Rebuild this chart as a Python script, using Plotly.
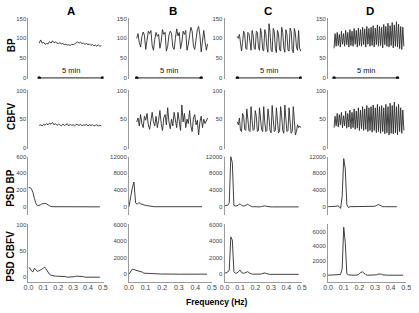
import plotly.graph_objects as go

W, H = 419, 313

COLUMNS = ["A", "B", "C", "D"]
ROW_LABELS = ["BP", "CBFV", "PSD BP", "PSD CBFV"]

# ---- time series (BP, CBFV), sampled every DT seconds ----
DT = {"A": 7, "B": 6, "C": 5, "D": 5}

A_BP = [88, 96, 88, 90, 85, 87, 86, 92, 88, 94, 89, 91, 88, 87, 89, 86, 87, 84, 85, 83,
        84, 82, 85, 84, 86, 89, 91, 88, 90, 87, 88, 85, 87, 84, 86, 82, 85, 81, 83, 80,
        84, 80, 82]
A_CBFV = [39, 40, 38, 41, 39, 42, 40, 43, 41, 44, 40, 42, 39, 41, 40, 38, 41, 39, 40, 42,
          38, 41, 39, 40, 38, 41, 40, 39, 41, 38, 40, 39, 41, 38, 40, 39, 40, 38, 39, 40,
          38, 39, 38]
B_BP = [100, 112, 90, 78, 104, 116, 108, 72, 95, 118,
        112, 120, 82, 70, 98, 115, 105, 110, 75, 92,
        122, 110, 115, 68, 80, 108, 118, 112, 78, 72,
        100, 124, 106, 115, 74, 90, 118, 110, 120, 70,
        85, 112, 128, 118, 80, 72, 96, 122, 130, 108,
        66, 88, 120, 92, 70, 86]
B_CBFV = [45, 52, 38, 58, 42, 35, 55, 48, 60, 40,
          32, 50, 62, 45, 38, 55, 35, 48, 65, 42,
          30, 52, 58, 40, 70, 45, 33, 50, 38, 62,
          48, 35, 62, 40, 30, 75, 45, 60, 35, 50,
          42, 65, 38, 28, 52, 58, 40, 48, 22, 45,
          55, 35, 50, 42, 48, 52]
C_BP = [105, 100, 110, 92, 68, 90, 118, 110, 75, 72,
        115, 112, 80, 70, 120, 108, 74, 72, 118, 115,
        78, 70, 125, 110, 72, 68, 122, 112, 76, 65,
        137, 115, 70, 66, 125, 118, 75, 64, 120, 112,
        72, 68, 128, 115, 76, 65, 122, 110, 70, 68,
        126, 118, 72, 64, 125, 112, 78, 70, 120, 75,
        68]
C_CBFV = [45, 40, 52, 30, 28, 60, 55, 32, 30, 68,
          50, 30, 28, 72, 48, 30, 32, 65, 55, 28,
          30, 70, 50, 32, 28, 72, 45, 28, 30, 68,
          52, 30, 26, 74, 50, 28, 30, 70, 48, 26,
          28, 72, 55, 30, 25, 75, 50, 28, 30, 70,
          45, 25, 28, 72, 48, 22, 28, 40, 35, 38,
          35]
D_BP = [75, 112, 80, 115, 82, 110, 78, 118, 85, 112,
        80, 120, 84, 115, 78, 122, 82, 118, 80, 125,
        85, 120, 78, 126, 82, 122, 80, 128, 84, 124,
        78, 130, 85, 125, 80, 128, 82, 132, 78, 126,
        84, 134, 80, 130, 82, 128, 76, 135, 84, 130,
        80, 138, 78, 132, 82, 140, 76, 134, 80, 142,
        78, 136, 74, 130, 72, 128, 80]
D_CBFV = [35, 55, 38, 60, 36, 58, 40, 62, 35, 56,
          38, 64, 34, 60, 36, 66, 33, 62, 35, 68,
          32, 64, 34, 70, 30, 66, 33, 72, 30, 68,
          32, 74, 28, 70, 30, 72, 27, 75, 30, 70,
          26, 76, 28, 72, 25, 74, 28, 70, 24, 76,
          26, 72, 22, 78, 25, 74, 24, 80, 26, 72,
          22, 76, 28, 70, 25, 66, 30]

# ---- power spectral densities, frequency step 0.01 Hz starting at 0 ----
FREQ_STEP = 0.01
A_PSD_BP = [230, 228, 215, 170, 100, 40, 12, 15, 22, 32, 38, 40, 35, 22, 8, 2, 0, 0, 0, 0,
            0, 0, 0, 0, 0, 0, -1, -1, -1, -1, -1, -1, -1, -1, -1, -2, -2, -2, -2, -2,
            -2, -2, -2, -2, -2, -2, -2, -2, -2]
A_PSD_CBFV = [18, 17, 12, 10, 17, 14, 11, 12, 13, 15, 17, 19, 15, 10, 6, 4, 3, 3, 2, 2,
              2, 2, 2, 2, 2, 1, 0, 0, 0, 1, 1, 1, 2, 2, 2, 1, 1, 1, 0, 0,
              0, 0, 0, 0, 0, 0, 0, 0, 0]
B_PSD_BP = [0, 2800, 4500, 5900, 900, 600, 1000, 700, 500, 400, 300, 250, 150, 50, 0, 0, 0, 0, 0, 0,
            0, 0, 0, 0, 0, 0, 0, 0, 0, 0, 0, 0, 0, 0, 0, 0, 0, 0, 0, 0,
            0, 0, 0, 0, 0]
B_PSD_CBFV = [0, 350, 600, 550, 500, 450, 400, 350, 250, 120, 100, 100, 90, 80, 70, 60, 50, 40, 30, 20,
              10, 0, 0, 0, 0, 0, 0, 0, 0, 0, 0, 0, 0, 0, 0, 0, 0, 0, 0, 0,
              0, 0, 0, 0, 0, 0, 0, 0]
C_PSD_BP = [200, 250, 350, 900, 12000, 10500, 300, 150, 200, 450, 700, 300, 150, 200, 450, 600, 300, 100, 0, 0,
            -50, -50, -50, -50, 50, 150, 200, 100, 0, -50, -50, -50, -50, -50, -50, -50, -50, -50, -50, -50,
            -50, -50, -50, -50, -50, -50, -50, -50, -50]
C_PSD_CBFV = [100, 150, 250, 500, 4500, 4100, 300, 100, 150, 300, 500, 200, 100, 150, 250, 300, 150, 50, 0, 0,
              -20, -20, -20, 0, 50, 100, 150, 80, 0, -20, -20, -20, -20, -20, -20, -20, -20, -20, -20, -20,
              -20, -20, -20, -20, -20, -20, -20, -20, -20]
D_PSD_BP = [0, 0, 0, 0, 0, 100, 200, 50, -400, 2500, 11500, 9000, 500, -200, 0, 0, 0, 0, 0, 0,
            0, 0, 0, 0, 0, 0, 0, 0, 0, 0, 100, 300, 500, 400, 150, 0, 0, 0, 0, 0,
            0, 0, 0, 0, 0]
D_PSD_CBFV = [0, 0, 0, 0, 0, 0, 0, 50, 100, 900, 6600, 4500, 200, 50, 0, 0, 0, 0, 0, 50,
              200, 400, 450, 250, 100, 0, 0, 0, 0, 0, 0, 50, 150, 200, 150, 50, 0, 0, 0, 0,
              0, 0, 0, 0, 0, 0, 0, 0, 0]

SERIES = {
    "A": [A_BP, A_CBFV, A_PSD_BP, A_PSD_CBFV],
    "B": [B_BP, B_CBFV, B_PSD_BP, B_PSD_CBFV],
    "C": [C_BP, C_CBFV, C_PSD_BP, C_PSD_CBFV],
    "D": [D_BP, D_CBFV, D_PSD_BP, D_PSD_CBFV],
}

SCALE_BAR_SECONDS = 300
SCALE_BAR_LABEL = "5 min"

# y ranges / ticks per (row, column)
Y_RANGES = {
    0: {c: [-2, 152] for c in COLUMNS},
    1: {c: [-2, 102] for c in COLUMNS},
    2: {"A": [-100, 600], "B": [-2000, 12000], "C": [-2000, 12000], "D": [-2000, 12000]},
    3: {"A": [-10, 100], "B": [-1000, 6000], "C": [-1000, 6000], "D": [-1000, 7000]},
}
Y_TICKS = {
    0: {c: [0, 50, 100, 150] for c in COLUMNS},
    1: {c: [0, 50, 100] for c in COLUMNS},
    2: {"A": [0, 200, 400, 600], "B": [0, 4000, 8000, 12000],
        "C": [0, 4000, 8000, 12000], "D": [0, 4000, 8000, 12000]},
    3: {"A": [0, 50, 100], "B": [0, 2000, 4000, 6000],
        "C": [0, 2000, 4000, 6000], "D": [0, 2000, 4000, 6000]},
}
FREQ_TICKS = [0.0, 0.1, 0.2, 0.3, 0.4, 0.5]

# ---- layout geometry (pixels) ----
COL_PX = {"A": (24, 101), "B": (127, 212), "C": (225, 304), "D": (331, 411)}
TIME_RANGE = {"A": [-51, 305], "B": [-36, 350], "C": [-60, 305], "D": [-28, 341]}
FREQ_RANGE = {"A": [0, 0.505], "B": [0, 0.5], "C": [0, 0.5], "D": [0, 0.5]}
ROW_PX = [(15, 77), (88, 148), (156, 215.5), (225, 284)]
TITLE_X = {"A": 68, "B": 172, "C": 269, "D": 374}
ROW_LABEL_Y = [43, 115, 188, 257]

FONT = "Liberation Sans, Arial, sans-serif"
LINE_C = "#2b2b2b"
AXIS_C = "#9a9a9a"
TICK_C = "#444444"


def fx(p):
    return p / W


def fy(p):
    return 1 - p / H


fig = go.Figure()
layout = dict(
    width=W, height=H, margin=dict(l=0, r=0, t=0, b=0),
    paper_bgcolor="white", plot_bgcolor="white", showlegend=False,
    font=dict(family=FONT, color=TICK_C),
)
annotations = []

n = 0
for r in range(4):
    for c in COLUMNS:
        n += 1
        xa = "xaxis" if n == 1 else f"xaxis{n}"
        ya = "yaxis" if n == 1 else f"yaxis{n}"
        xref = "x" if n == 1 else f"x{n}"
        yref = "y" if n == 1 else f"y{n}"
        vals = SERIES[c][r]
        if r < 2:
            fig.add_trace(go.Scatter(y=vals, x0=0, dx=DT[c], mode="lines",
                                     line=dict(color=LINE_C, width=0.9),
                                     xaxis=xref, yaxis=yref, hoverinfo="skip"))
            xrange = TIME_RANGE[c]
        else:
            fig.add_trace(go.Scatter(y=vals, x0=0, dx=FREQ_STEP, mode="lines",
                                     line=dict(color=LINE_C, width=0.9),
                                     xaxis=xref, yaxis=yref, hoverinfo="skip"))
            xrange = FREQ_RANGE[c]
        if r == 0:
            fig.add_trace(go.Scatter(x=[0, SCALE_BAR_SECONDS], y=[0, 0], mode="lines+markers",
                                     line=dict(color="black", width=1),
                                     marker=dict(color="black", size=3.5),
                                     xaxis=xref, yaxis=yref, hoverinfo="skip"))
            annotations.append(dict(x=SCALE_BAR_SECONDS / 2, y=0, xref=xref, yref=yref,
                                    text=SCALE_BAR_LABEL, showarrow=False,
                                    xanchor="center", yanchor="bottom",
                                    yshift=1, font=dict(size=7.5, color="#111111")))
        x0p, x1p = COL_PX[c]
        y0p, y1p = ROW_PX[r]
        layout[xa] = dict(
            domain=[fx(x0p), fx(x1p)], range=xrange, anchor=yref,
            showgrid=False, zeroline=False, fixedrange=True,
        )
        if r == 3:
            layout[xa].update(showline=True, linecolor=AXIS_C, linewidth=1,
                              tickvals=FREQ_TICKS, tickformat=".1f", ticks="",
                              ticklabelstandoff=-2,
                              tickfont=dict(size=7, color=TICK_C))
        else:
            layout[xa].update(visible=False)
        layout[ya] = dict(
            domain=[fy(y1p), fy(y0p)], range=Y_RANGES[r][c], anchor=xref,
            showgrid=False, zeroline=False, showline=True, linecolor=AXIS_C, linewidth=1,
            tickvals=Y_TICKS[r][c], tickformat="d", ticks="",
            tickfont=dict(size=6, color=TICK_C),
            fixedrange=True,
        )

for c in COLUMNS:
    annotations.append(dict(x=fx(TITLE_X[c]), y=fy(8), xref="paper", yref="paper",
                            text=f"<b>{c}</b>", showarrow=False,
                            xanchor="center", yanchor="middle",
                            font=dict(size=11.5, color="black")))
for label, yp in zip(ROW_LABELS, ROW_LABEL_Y):
    annotations.append(dict(x=fx(6), y=fy(yp), xref="paper", yref="paper",
                            text=f"<b>{label}</b>", showarrow=False, textangle=-90,
                            xanchor="center", yanchor="middle",
                            font=dict(size=10, color="black")))
annotations.append(dict(x=fx(217), y=fy(304), xref="paper", yref="paper",
                        text="<b>Frequency (Hz)</b>", showarrow=False,
                        xanchor="center", yanchor="middle",
                        font=dict(size=8.5, color="black")))

layout["annotations"] = annotations
fig.update_layout(**layout)
fig.write_html(
    "out.html",
    config={"displayModeBar": False, "staticPlot": True},
    post_script="document.body.style.margin='0';document.body.style.overflow='hidden';",
)
